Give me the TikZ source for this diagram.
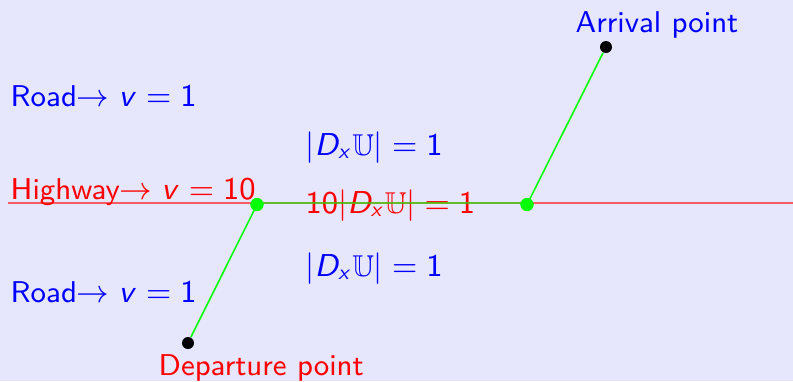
\documentclass[tikz,border=0pt]{standalone}
\usepackage{amsmath,amssymb}
\usepackage{tikz}
\usetikzlibrary{positioning}
\renewcommand{\familydefault}{\sfdefault}
% sans-serif math, as in a beamer slide
\SetSymbolFont{operators}{normal}{OT1}{cmss}{m}{n}
\SetSymbolFont{letters}{normal}{OT1}{cmss}{m}{it}
\definecolor{slidebg}{RGB}{230,230,252}
\newcommand{\costU}{|D_x\mathbb{U}|}

\begin{document}
\begin{tikzpicture}[
  x=0.01cm, y=-0.01cm,
  font=\sffamily\fontsize{8.55}{10.2}\selectfont,
  lab/.style={anchor=base west, inner sep=0pt},
  road/.style={lab, blue},
  hway/.style={lab, red},
  dot/.style={circle, fill=black, inner sep=0pt, minimum size=0.12cm},
  gdot/.style={dot, fill=green, minimum size=0.13cm},
  hwline/.style={red, draw opacity=0.6, line width=0.6pt},
  path/.style={green, line width=0.45pt},
]
\fill[slidebg] (0,0) rectangle (793,381);
\useasboundingbox (0,0) rectangle (793,381);
% ---- labels ----
\node[road] (roadtop) at (10,106) {Road$\rightarrow v=1$};
\node[hway] (hwlab) at (10,199) {Highway$\rightarrow v=10$};
\node[road] (roadbot) at (10,302) {Road$\rightarrow v=1$};
\node[road] (costtop) at (305,155) {$\costU=1$};
\node[hway] (costhw) at (305,213) {$10\costU=1$};
\node[road] (costbot) at (305,276) {$\costU=1$};
\node[road] (arrlab) at (575,32) {Arrival point};
\node[hway] (deplab) at (158,375) {Departure point};
% ---- highway ----
\coordinate (hwstart) at (8,203);
\coordinate (hwend) at (793,203);
\draw[hwline] (hwstart) -- (hwend);
% ---- points ----
\node[dot] (dep) at (188,343) {};
\node[dot] (arr) at (606,47) {};
\node[gdot] (hwin) at (257,204.5) {};
\node[gdot] (hwout) at (527,204.5) {};
% ---- optimal path ----
\draw[path] (dep) -- (hwin.center);
\draw[path, draw opacity=0.6, line width=0.6pt] (hwin |- hwstart) -- (hwout |- hwstart);
\draw[path] (hwout.center) -- (arr);
\node[gdot] at (hwin) {};
\node[gdot] at (hwout) {};
\end{tikzpicture}
\end{document}
